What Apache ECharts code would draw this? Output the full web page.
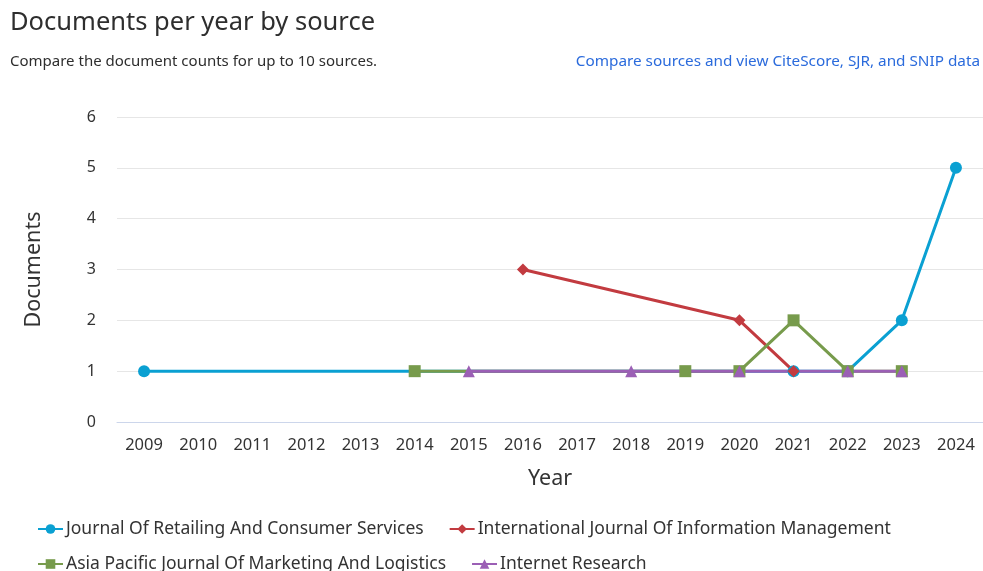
<!DOCTYPE html>
<html>
<head>
<meta charset="utf-8">
<script src="https://cdn.jsdelivr.net/npm/echarts@6/dist/echarts.min.js"></script>
<style>
html,body{margin:0;padding:0;background:#fff;}
#chart{width:983px;height:571px;}
</style>
</head>
<body>
<div id="chart"></div>
<script>
const years = ['2009','2010','2011','2012','2013','2014','2015','2016','2017','2018','2019','2020','2021','2022','2023','2024'];
const seriesNames = [
  'Journal Of Retailing And Consumer Services',
  'International Journal Of Information Management',
  'Asia Pacific Journal Of Marketing And Logistics',
  'Internet Research'
];
const retailing   = [1,null,null,null,null,null,null,null,null,null,null,null,1,1,2,5];
const infoMgmt    = [null,null,null,null,null,null,null,3,null,null,null,2,1,null,null,null];
const asiaPacific = [null,null,null,null,null,1,null,null,null,null,1,1,2,1,1,null];
const internetRes = [null,null,null,null,null,null,1,null,null,1,null,1,null,1,1,null];
const yTicks = [0,1,2,3,4,5,6];

const colors = ['#0aa0d2','#c23b40','#779b4c','#9b5fb5'];
const symbols = ['circle','diamond','rect','triangle'];
const dataSets = [retailing, infoMgmt, asiaPacific, internetRes];
const FONT = '"Noto Sans", "Open Sans", sans-serif';

const chart = echarts.init(document.getElementById('chart'));
const legendText = {fontSize: 17.5, color: '#333', fontFamily: FONT, padding: [0,0,0,-2]};
chart.setOption({
  animation: false,
  textStyle: {fontFamily: FONT},
  title: [
    {text: 'Documents per year by source', left: 5, top: 5,
     textStyle: {fontSize: 25.5, fontWeight: 'normal', color: '#2e2e2e', fontFamily: FONT}},
    {text: 'Compare the document counts for up to 10 sources.', left: 5, top: 49,
     textStyle: {fontSize: 15, fontWeight: 'normal', color: '#2e2e2e', fontFamily: FONT}},
    {text: 'Compare sources and view CiteScore, SJR, and SNIP data', right: -2, top: 49,
     textStyle: {fontSize: 15.3, fontWeight: 'normal', color: '#2b6bdc', fontFamily: FONT}}
  ],
  legend: [
    {data: seriesNames.slice(0,2), left: 32, top: 515, itemGap: 25, itemWidth: 25, itemHeight: 12,
     textStyle: legendText},
    {data: seriesNames.slice(2,4), left: 32, top: 550, itemGap: 25, itemWidth: 25, itemHeight: 12,
     textStyle: legendText}
  ],
  grid: {left: 117, right: 0, top: 117, bottom: 149, containLabel: false},
  xAxis: {
    type: 'category',
    data: years,
    boundaryGap: true,
    name: 'Year',
    nameLocation: 'middle',
    nameGap: 46,
    nameTextStyle: {fontSize: 21.5, color: '#333', fontFamily: FONT},
    axisLine: {lineStyle: {color: '#ccd6eb', width: 1}},
    axisTick: {show: false},
    axisLabel: {fontSize: 16.5, color: '#333', margin: 15, fontFamily: FONT, interval: 0},
    splitLine: {show: false}
  },
  yAxis: {
    type: 'value',
    min: yTicks[0],
    max: yTicks[yTicks.length-1],
    interval: 1,
    name: 'Documents',
    nameLocation: 'middle',
    nameGap: 72,
    nameTextStyle: {fontSize: 21.5, color: '#333', fontFamily: FONT},
    axisLine: {show: false},
    axisTick: {show: false},
    axisLabel: {fontSize: 16, color: '#333', margin: 21, fontFamily: FONT},
    splitLine: {lineStyle: {color: '#e6e6e6', width: 1}}
  },
  series: seriesNames.map((n, i) => ({
    name: n,
    type: 'line',
    data: dataSets[i],
    connectNulls: true,
    symbol: symbols[i],
    symbolSize: symbols[i] === 'circle' ? 12 : 12,
    showAllSymbol: true,
    color: colors[i],
    lineStyle: {width: 3, color: colors[i]},
    itemStyle: {color: colors[i]}
  }))
});
</script>
</body>
</html>
